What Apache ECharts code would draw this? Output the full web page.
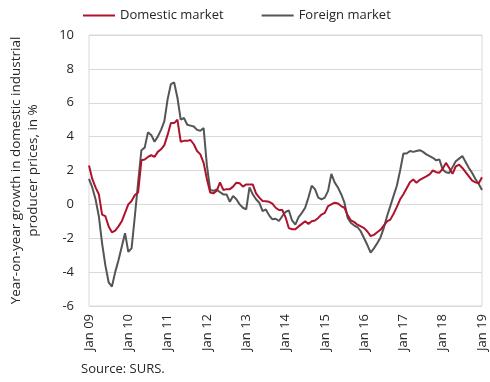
<!DOCTYPE html>
<html>
<head>
<meta charset="utf-8">
<script src="https://cdn.jsdelivr.net/npm/echarts@6/dist/echarts.min.js"></script>
<style>
html,body{margin:0;padding:0;background:#fff;}
#chart{width:490px;height:382px;}
</style>
</head>
<body>
<div id="chart"></div>
<script>
var years = ['09','10','11','12','13','14','15','16','17','18','19'];
var months = ['Jan','Feb','Mar','Apr','May','Jun','Jul','Aug','Sep','Oct','Nov','Dec'];
var seriesNames = ['Domestic market', 'Foreign market'];
var yTicks = { min: -6, max: 10, interval: 2 };
var yTitle = 'Year-on-year growth in domestic industrial\nproducer prices, in %';
var sourceText = 'Source: SURS.';

var domestic = [
  2.3, 1.5, 1.0, 0.6, -0.6, -0.7, -1.3, -1.65, -1.55, -1.3, -1.0, -0.5,
  0.0, 0.2, 0.55, 0.7, 2.6, 2.65, 2.8, 2.9, 2.8, 3.1, 3.25, 3.5,
  4.1, 4.8, 4.8, 5.0, 3.7, 3.75, 3.75, 3.8, 3.55, 3.15, 2.95, 2.45,
  1.5, 0.7, 0.65, 0.8, 1.3, 0.85, 0.9, 0.9, 1.05, 1.28, 1.25, 1.05,
  1.18, 1.18, 1.18, 0.65, 0.4, 0.2, 0.18, 0.15, 0.05, -0.2, -0.33, -0.33,
  -0.75, -1.4, -1.47, -1.47, -1.3, -1.15, -1.0, -1.15, -1.0, -0.95, -0.8, -0.6,
  -0.5, -0.1, 0.0, 0.1, 0.05, -0.1, -0.2, -0.65, -0.95, -1.05, -1.2, -1.3,
  -1.4, -1.6, -1.87, -1.8, -1.65, -1.5, -1.25, -1.0, -0.9, -0.55, -0.15, 0.3,
  0.6, 0.95, 1.3, 1.47, 1.28, 1.45, 1.55, 1.65, 1.77, 2.0, 1.9, 1.87,
  2.1, 2.45, 2.15, 1.8, 2.25, 2.35, 2.15, 1.9, 1.65, 1.4, 1.3, 1.25,
  1.6
];
var foreign = [
  1.5, 1.0, 0.3, -0.7, -2.3, -3.6, -4.6, -4.85, -4.0, -3.3, -2.5, -1.7,
  -2.8, -2.6, -0.7, 1.3, 3.2, 3.35, 4.25, 4.1, 3.7, 4.0, 4.4, 4.9,
  6.2, 7.1, 7.2, 6.3, 5.0, 5.1, 4.7, 4.65, 4.6, 4.4, 4.35, 4.5,
  2.3, 0.85, 0.8, 0.88, 0.72, 0.59, 0.59, 0.15, 0.5, 0.3, 0.0, -0.2,
  -0.3, 1.0, 0.6, 0.3, 0.1, -0.4, -0.3, -0.65, -0.88, -0.85, -0.98, -0.7,
  -0.45, -0.35, -0.95, -1.2, -0.75, -0.5, -0.2, 0.4, 1.1, 0.9, 0.4, 0.3,
  0.4, 0.8, 1.8, 1.3, 1.0, 0.6, 0.1, -0.8, -1.1, -1.25, -1.35, -1.6,
  -2.0, -2.4, -2.85, -2.6, -2.3, -1.95, -1.4, -0.7, -0.1, 0.5, 1.1, 2.0,
  3.0, 3.0, 3.15, 3.1, 3.15, 3.2, 3.1, 2.95, 2.85, 2.75, 2.6, 2.65,
  2.05, 1.9, 1.85, 2.2, 2.55, 2.7, 2.85, 2.5, 2.15, 1.85, 1.5, 1.2,
  0.85
];

var categories = [];
years.forEach(function (y) {
  months.forEach(function (m) {
    if (categories.length < domestic.length) categories.push(m + ' ' + y);
  });
});

var FONT = '"Open Sans", sans-serif';
var chart = echarts.init(document.getElementById('chart'));
chart.setOption({
  animation: false,
  textStyle: { fontFamily: FONT },
  legend: {
    data: seriesNames,
    top: 4,
    left: 78,
    icon: 'rect',
    itemWidth: 32,
    itemHeight: 2,
    itemGap: 38,
    textStyle: { fontFamily: FONT, fontSize: 13, color: '#262626' }
  },
  grid: {
    left: 82, right: 8, top: 35, bottom: 76,
    show: true, borderColor: '#d9d9d9', borderWidth: 1
  },
  xAxis: {
    type: 'category',
    data: categories,
    boundaryGap: false,
    axisLine: { show: true, lineStyle: { color: '#d9d9d9' } },
    axisTick: { show: false },
    axisLabel: {
      interval: 11,
      rotate: 90,
      margin: 8,
      fontFamily: FONT,
      fontSize: 13,
      color: '#262626'
    },
    splitLine: { show: false }
  },
  yAxis: {
    type: 'value',
    min: yTicks.min, max: yTicks.max, interval: yTicks.interval,
    name: yTitle,
    nameLocation: 'middle',
    nameRotate: 90,
    nameGap: 47,
    nameTextStyle: { fontFamily: FONT, fontSize: 13.5, color: '#262626', lineHeight: 17 },
    axisLine: { show: false },
    axisTick: { show: false },
    axisLabel: { margin: 15, fontFamily: FONT, fontSize: 13, color: '#262626' },
    splitLine: { lineStyle: { color: '#d9d9d9', width: 1 } }
  },
  graphic: [{
    type: 'text',
    left: 81, top: 363,
    style: { text: sourceText, font: '13px ' + FONT, fill: '#262626' }
  }],
  series: [
    {
      name: seriesNames[0], type: 'line', data: domestic,
      showSymbol: false, symbol: 'none',
      lineStyle: { color: '#b0122c', width: 2 },
      itemStyle: { color: '#b0122c' },
      z: 3
    },
    {
      name: seriesNames[1], type: 'line', data: foreign,
      showSymbol: false, symbol: 'none',
      lineStyle: { color: '#555555', width: 2 },
      itemStyle: { color: '#555555' },
      z: 2
    }
  ]
});
</script>
</body>
</html>
